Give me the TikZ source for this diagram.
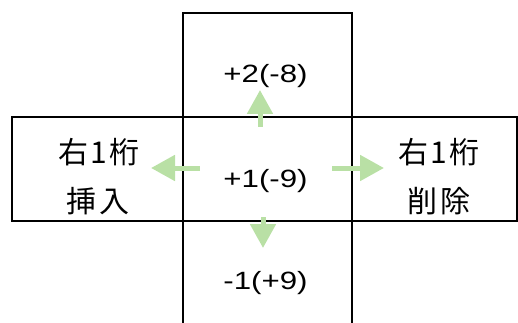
\documentclass[tikz,border=0pt]{standalone}
\usepackage{fontspec}
\setmainfont{Liberation Sans}[FakeStretch=1.25]
\newfontfamily\jp{Noto Sans CJK JP}[LetterSpace=8]
\usetikzlibrary{arrows.meta}
\definecolor{arrowgreen}{HTML}{B9E0A5}
\tikzset{
  box/.style={draw=black, line width=2pt},
  num/.style={font=\fontsize{25}{30}\selectfont, inner sep=0pt},
  jpt/.style={font=\jp\fontsize{30}{36}\selectfont, inner sep=0pt},
  garrow/.style={draw=arrowgreen, line width=5pt, -{Triangle[width=25pt,length=24pt]}}
}
\begin{document}
\begin{tikzpicture}[x=1pt,y=-1pt]
\useasboundingbox (0,0) rectangle (518,323);
\clip (0,0) rectangle (518,323);
\draw[box] (12,117.5) rectangle (517,221);
\draw[box] (182.5,13) rectangle (352,340);
\node[num] (top) at (265.5,76.5) {+2(-8)};
\node[num] (mid) at (265.5,181.5) {+1(-9)};
\node[num] (bot) at (265.5,283) {-1(+9)};
\node[jpt] (l1) at (99,152.5) {右1桁};
\node[jpt] (l2) at (98,201) {挿入};
\node[jpt] (r1) at (439,152.5) {右1桁};
\node[jpt] (r2) at (439,201) {削除};
\coordinate (ua) at (260,127);
\coordinate (ub) at (260,90);
\coordinate (la) at (200,168);
\coordinate (lb) at (151,168);
\coordinate (ra) at (332,168);
\coordinate (rb) at (384,168);
\coordinate (da) at (263,217);
\coordinate (db) at (263,248);
\draw[garrow] (ua) -- (ub);
\draw[garrow] (la) -- (lb);
\draw[garrow] (ra) -- (rb);
\draw[garrow] (da) -- (db);
\end{tikzpicture}
\end{document}
